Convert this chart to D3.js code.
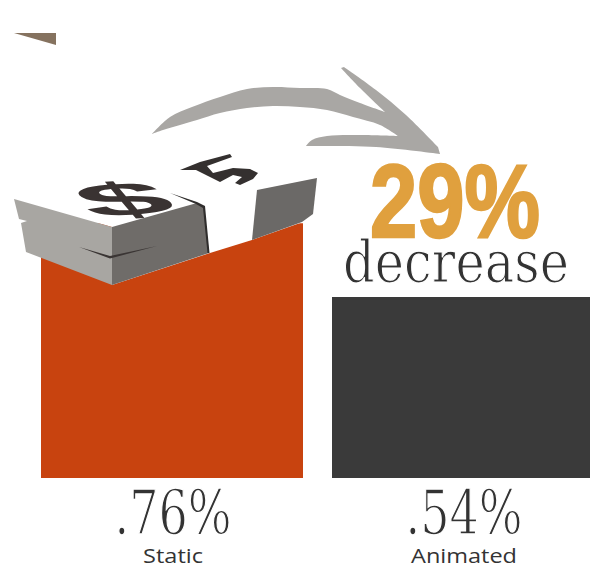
<!DOCTYPE html>
<html>
<head>
<meta charset="utf-8">
<script src="https://cdn.jsdelivr.net/npm/d3@7"></script>
<style>
  html, body { margin: 0; padding: 0; background: #fff; overflow: hidden; }
  svg { display: block; }
</style>
</head>
<body>
<script>
// Click-through rate by ad format
const categories = ["Static", "Animated"];
const values = [0.76, 0.54];
const valueLabels = [".76%", ".54%"];
const barColors = ["#c8430f", "#3a3a3a"];
const changeValue = "29%";
const changeWord = "decrease";

const width = 590, height = 569;
const svg = d3.select("body").append("svg")
  .attr("width", width).attr("height", height);

const x = d3.scaleBand().domain(categories).range([41, 594]).paddingInner(29 / 291);
const y = d3.scaleLinear().domain([0, 0.54]).range([478, 297]);

// Squeezes a text horizontally to the wanted width around its anchor
function fitWidth(sel, px, py, wanted) {
  sel.each(function (d, i) {
    const w = typeof wanted === "function" ? wanted(d, i) : wanted;
    const ax = typeof px === "function" ? px(d, i) : px;
    const len = this.getComputedTextLength();
    d3.select(this).attr("transform", `translate(${ax},${py}) scale(${w / len},1)`);
  });
}

// Bars
svg.selectAll("rect.bar").data(categories).join("rect")
  .attr("class", "bar")
  .attr("x", d => x(d))
  .attr("width", x.bandwidth())
  .attr("y", (d, i) => y(values[i]))
  .attr("height", (d, i) => y(0) - y(values[i]))
  .attr("fill", (d, i) => barColors[i]);

const barMid = d => x(d) + x.bandwidth() / 2 + 1;

// Percentages under the bars; the white outline thins the slab letterforms
svg.selectAll("text.value").data(categories).join("text")
  .attr("class", "value")
  .attr("text-anchor", "middle")
  .attr("font-family", "DejaVu Serif")
  .attr("font-size", 61)
  .attr("fill", "#333")
  .attr("stroke", "#fff")
  .attr("stroke-width", 1.4)
  .text((d, i) => valueLabels[i])
  .call(fitWidth, barMid, 534, 117);

// Category names
svg.selectAll("text.cat").data(categories).join("text")
  .attr("class", "cat")
  .attr("text-anchor", "middle")
  .attr("font-family", "Open Sans")
  .attr("font-size", 19.5)
  .attr("fill", "#333")
  .text(d => d)
  .call(fitWidth, barMid, 563, (d, i) => [60, 106][i]);

const poly = pts => "M" + pts.map(p => p.join(",")).join("L") + "Z";
const addPoly = (pts, fill) => svg.append("path").attr("d", poly(pts)).attr("fill", fill);

// Corner wedge at the top left
addPoly([[14, 33], [56, 33], [56, 45]], "#85725f");

// Curved arrow from the tall bar towards the short one, outlined as smooth runs
const smooth = d3.line().curve(d3.curveCatmullRom.alpha(0.5));
const arrowRuns = [
  [[152, 134], [170, 117], [192, 107], [220, 97], [247, 89], [273, 87], [300, 88], [327, 89], [340, 95], [360, 103], [385, 112]],
  [[385, 112], [360, 88], [341, 68]],
  [[344, 67], [376, 90], [406, 115], [438, 147]],
  [[440, 154], [376, 147], [306, 146]],
  [[306, 146], [312, 140], [327, 136], [360, 135], [398, 136]],
  [[398, 136], [380, 125], [353, 117], [327, 110], [300, 107], [273, 106], [247, 108], [220, 113], [197, 120], [180, 125], [163, 130], [152, 134]]
];
svg.append("path")
  .attr("d", arrowRuns.map((run, i) => {
    const d = smooth(run);
    return i ? "L" + d.slice(1) : d;
  }).join("") + "Z")
  .attr("fill", "#a9a7a4");

// Stack of bills resting on the tall bar: paper first, then its sides
addPoly([[14, 199], [112, 227], [112, 285], [210, 253], [252, 240], [303, 222], [317, 178], [210, 130]], "#fff");
addPoly([[14, 199], [112, 227], [112, 285], [26, 252], [21, 223], [27, 221], [19, 219]], "#a8a6a2");
addPoly([[112, 227], [197, 203], [204, 207], [209, 253], [112, 285]], "#6f6c69");
addPoly([[257, 190], [317, 178], [313, 214], [302, 222], [252, 240]], "#6b6967");
addPoly([[79, 247], [110, 256], [157, 246], [110, 258.5]], "#3a3534");
addPoly([[170, 193], [197, 202], [205, 206], [209.5, 253], [207.5, 253], [203, 208], [196, 204]], "#2f2d2c");

// Dollar sign printed on the top bill, laid out in perspective
svg.append("text")
  .attr("transform", "matrix(1.58,-0.12,0.38,0.45,137,215)")
  .attr("font-family", "Liberation Sans")
  .attr("font-weight", "bold")
  .attr("font-size", 100)
  .attr("text-anchor", "middle")
  .attr("fill", "#3a3332")
  .text("$");

// Second sign, partly hidden by the paper band
addPoly([
  [180, 170], [200, 162], [230, 154], [232, 157], [207, 166], [213, 173], [233, 168], [250, 169],
  [258, 173], [253, 179], [240, 185], [235, 183], [242, 177], [233, 175], [220, 182], [200, 172], [196, 170]
], "#34302f");

// Headline
svg.append("text")
  .attr("text-anchor", "start")
  .attr("font-family", "Liberation Sans").attr("font-weight", "bold")
  .attr("font-size", 104).attr("fill", "#e0a03e")
  .attr("stroke", "#e0a03e").attr("stroke-width", 2.5)
  .text(changeValue)
  .call(fitWidth, 370, 237, 170);
svg.append("text")
  .attr("text-anchor", "start")
  .attr("font-family", "DejaVu Serif")
  .attr("font-size", 58).attr("fill", "#333")
  .attr("stroke", "#fff").attr("stroke-width", 1.2)
  .text(changeWord)
  .call(fitWidth, 343, 282, 226);
</script>
</body>
</html>
